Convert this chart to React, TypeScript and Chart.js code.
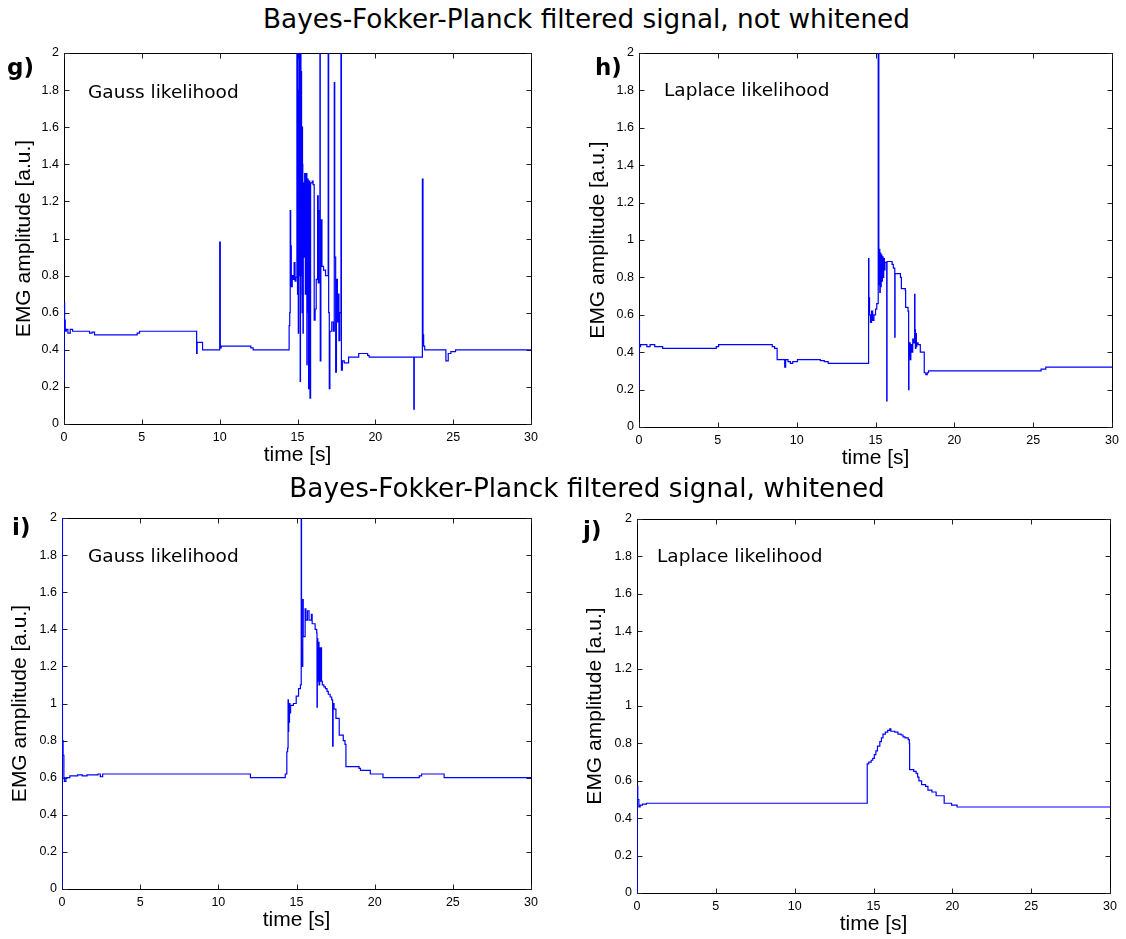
import React, { useEffect, useRef } from "react";
import { Chart, registerables } from "chart.js";

Chart.register(...registerables);

// ---------------- data ----------------
const xTickValues = [0, 5, 10, 15, 20, 25, 30];
const yTickValues = [0, 0.2, 0.4, 0.6, 0.8, 1, 1.2, 1.4, 1.6, 1.8, 2];

const topTitle = "Bayes-Fokker-Planck filtered signal, not whitened";
const bottomTitle = "Bayes-Fokker-Planck filtered signal, whitened";
const xAxisTitle = "time [s]";
const yAxisTitle = "EMG amplitude [a.u.]";

// g) not whitened, Gauss likelihood (value holds from time[i] until time[i+1])
const gTime = [
  0, 0.01, 0.04, 0.08, 0.15, 0.25, 0.4, 0.55, 1.64, 1.8, 1.96, 4.7, 4.85, 8.52, 8.55, 8.9,
  10.0, 10.04, 10.1, 12.0, 12.15, 14.46, 14.5, 14.53, 14.56, 14.6, 14.66, 14.72, 14.78, 14.84,
  14.9, 14.96, 14.98, 15.0, 15.02, 15.04, 15.05, 15.07, 15.09, 15.11, 15.13, 15.15, 15.17,
  15.19, 15.2, 15.22, 15.23, 15.25, 15.26, 15.28, 15.29, 15.31, 15.32, 15.34, 15.35, 15.37,
  15.38, 15.42, 15.46, 15.5, 15.54, 15.6, 15.62, 15.68, 15.71, 15.74, 15.78, 15.8, 15.84, 15.95,
  16.0, 16.07, 16.13, 16.2, 16.29, 16.33, 16.38, 16.44, 16.46, 16.5, 16.57, 16.67, 16.8, 16.97,
  17.0, 17.04, 17.08, 17.2, 17.3, 17.36, 17.39, 17.45, 17.5, 17.56, 17.6, 17.66, 17.72, 17.79,
  17.82, 17.88, 18.0, 18.28, 18.93, 19.5, 19.6, 22.47, 22.5, 23.02, 23.06, 23.1, 23.17, 24.53,
  24.68, 24.85, 25.15, 30,
];
const gAmp = [
  0.23, 0.65, 0.56, 0.5, 0.51, 0.49, 0.51, 0.5, 0.49, 0.495, 0.48, 0.49, 0.5, 0.38, 0.44, 0.4,
  0.98, 0.41, 0.42, 0.41, 0.4, 0.53, 0.6, 1.15, 0.96, 0.74, 0.8, 0.78, 0.87, 0.77,
  0.79, 2.5, 0.9, 0.7, 2.5, 1.2, 0.49, 1.8, 1.5, 0.8, 2.5, 1.1, 0.23,
  1.7, 2.5, 0.9, 0.8, 1.9, 1.55, 0.7, 0.6, 1.6, 1.4, 0.8, 0.49, 1.2,
  1.3, 0.9, 1.35, 0.7, 1.35, 0.32, 1.32, 0.6, 0.19, 1.31, 0.9, 0.14, 1.3, 1.31,
  1.29, 0.56, 0.62, 0.78, 1.23, 0.76, 1.15, 2.5, 0.34, 1.1, 0.85, 0.83, 0.8, 2.5,
  0.6, 0.19, 0.5, 0.55, 0.5, 1.84, 0.9, 0.28, 0.78, 0.55, 0.7, 0.45, 0.6, 2.5,
  0.29, 0.34, 0.33, 0.36, 0.38, 0.37, 0.36, 0.08, 0.36, 1.32, 0.48, 0.42, 0.4, 0.34,
  0.38, 0.39, 0.4, 0.4,
];

// h) not whitened, Laplace likelihood
const hTime = [
  0, 0.01, 0.03, 0.1, 0.5, 0.7, 1.0, 1.5, 4.9, 5.05, 8.45, 8.6, 8.76, 9.24, 9.3, 9.45, 9.6,
  9.75, 10.05, 11.5, 11.75, 12.0, 14.56, 14.58, 14.62, 14.68, 14.75, 14.82, 14.9, 15.0, 15.08,
  15.17, 15.21, 15.24, 15.27, 15.3, 15.33, 15.36, 15.4, 15.44, 15.48, 15.52, 15.56, 15.6,
  15.71, 15.73, 16.05, 16.13, 16.22, 16.24, 16.58, 16.64, 16.89, 16.91, 17.06, 17.1, 17.12,
  17.16, 17.2, 17.24, 17.3, 17.36, 17.4, 17.48, 17.5, 17.53, 17.56, 17.59, 17.62, 17.7, 17.84,
  18.09, 18.19, 18.28, 18.36, 25.5, 25.8, 30,
];
const hAmp = [
  0.2, 0.57, 0.43, 0.44, 0.43, 0.44, 0.43, 0.42, 0.43, 0.44, 0.43, 0.42, 0.36, 0.32, 0.36, 0.35, 0.34,
  0.35, 0.36, 0.355, 0.35, 0.34, 0.9, 0.69, 0.6, 0.56, 0.62, 0.57, 0.6, 0.63, 0.66,
  2.5, 0.76, 0.95, 0.72, 0.93, 0.75, 0.92, 0.78, 0.91, 0.8, 0.9, 0.84, 0.88,
  0.14, 0.885, 0.87, 0.85, 0.48, 0.82, 0.8, 0.74, 0.73, 0.64, 0.62, 0.2, 0.38,
  0.45, 0.36, 0.44, 0.4, 0.47, 0.45, 0.71, 0.52, 0.42, 0.5, 0.43, 0.45, 0.44, 0.4,
  0.29, 0.28, 0.29, 0.3, 0.31, 0.32, 0.32,
];

// i) whitened, Gauss likelihood
const iTime = [
  0, 0.01, 0.03, 0.07, 0.12, 0.15, 0.25, 0.5, 1.0, 1.3, 1.6, 2.3, 2.45, 2.6, 12.05, 14.28,
  14.38, 14.43, 14.46, 14.48, 14.5, 14.52, 14.55, 14.58, 14.62, 14.8, 14.98, 15.13, 15.25, 15.3,
  15.32, 15.36, 15.4, 15.43, 15.55, 15.6, 15.7, 15.8, 15.95, 16.0, 16.19, 16.29, 16.31, 16.33,
  16.36, 16.4, 16.44, 16.48, 16.52, 16.56, 16.6, 16.65, 16.75, 16.85, 16.95, 17.03, 17.15,
  17.25, 17.31, 17.34, 17.4, 17.52, 17.73, 17.99, 18.1, 18.16, 19.0, 19.09, 19.72, 20.53,
  22.85, 23.0, 24.44, 30,
];
const iAmp = [
  0, 2.5, 0.8, 0.72, 0.6, 0.58, 0.6, 0.61, 0.615, 0.61, 0.615, 0.62, 0.605, 0.62, 0.6, 0.62,
  0.74, 0.76, 1.02, 0.85, 1.0, 0.9, 1.0, 0.95, 0.99, 1.0, 1.04, 1.08, 1.1, 2.5,
  1.3, 1.2, 1.56, 1.36, 1.51, 1.45, 1.5, 1.45, 1.48, 1.43, 1.4, 1.38, 0.98, 1.35,
  1.12, 1.33, 1.1, 1.3, 1.12, 1.3, 1.12, 1.1, 1.09, 1.08, 1.065, 1.05, 1.035,
  1.02, 0.77, 1.0, 0.97, 0.92, 0.83, 0.8, 0.78, 0.66, 0.65, 0.64, 0.62, 0.6,
  0.61, 0.62, 0.6, 0.6,
];

// j) whitened, Laplace likelihood
const jTime = [
  0, 0.01, 0.05, 0.12, 0.2, 0.35, 0.6, 14.6, 14.7, 14.85, 14.95, 15.05, 15.15, 15.25, 15.4,
  15.5, 15.6, 15.75, 15.9, 16.03, 16.1, 16.35, 16.55, 16.75, 16.87, 17.0, 17.2, 17.27, 17.29,
  17.55, 17.7, 17.8, 17.88, 18.05, 18.3, 18.45, 18.7, 18.97, 19.48, 19.95, 20.3, 30,
];
const jAmp = [
  0, 0.57, 0.5, 0.46, 0.47, 0.475, 0.48, 0.69, 0.7, 0.71, 0.72, 0.74, 0.76, 0.785, 0.81,
  0.83, 0.85, 0.86, 0.87, 0.878, 0.865, 0.86, 0.85, 0.845, 0.835, 0.83, 0.82, 0.8, 0.66,
  0.65, 0.64, 0.62, 0.6, 0.58, 0.57, 0.55, 0.54, 0.52, 0.48, 0.47, 0.46, 0.46,
];

// ---------------- layout ----------------
const PAD_TOP = 14;
const PAD_RIGHT = 10;
const Y_AXIS_W = 64;
const X_AXIS_H = 52;

type PanelCfg = {
  time: number[];
  amp: number[];
  plot: [number, number, number, number];
  yTitleDist: number;
  letter: string;
  letterPos: [number, number];
  note: string;
  notePos: [number, number];
};

const panels: PanelCfg[] = [
  { time: gTime, amp: gAmp, plot: [64, 53, 534, 424], yTitleDist: 39.5, letter: "g)", letterPos: [7, 75], note: "Gauss likelihood", notePos: [88, 99] },
  { time: hTime, amp: hAmp, plot: [639, 53, 1115, 427], yTitleDist: 41, letter: "h)", letterPos: [595, 75], note: "Laplace likelihood", notePos: [664, 97] },
  { time: iTime, amp: iAmp, plot: [62, 518, 534, 889], yTitleDist: 42, letter: "i)", letterPos: [12, 535], note: "Gauss likelihood", notePos: [88, 563] },
  { time: jTime, amp: jAmp, plot: [637, 519, 1113, 893], yTitleDist: 41.3, letter: "j)", letterPos: [583, 538], note: "Laplace likelihood", notePos: [657, 563] },
];

// MATLAB-style axes box with inward ticks on all four sides, drawn beneath the data
const boxPlugin = {
  id: "matlabBox",
  beforeDatasetsDraw(chart: any) {
    const { ctx, chartArea: a, scales } = chart;
    const xs = scales.x;
    const ys = scales.y;
    ctx.save();
    ctx.strokeStyle = "#000";
    ctx.lineWidth = 1;
    const L = Math.round(a.left) + 0.5;
    const R = Math.round(a.right) + 0.5;
    const T = Math.round(a.top) + 0.5;
    const B = Math.round(a.bottom) + 0.5;
    ctx.strokeRect(L, T, R - L, B - T);
    ctx.strokeStyle = "#222";
    const tl = 5;
    ctx.beginPath();
    xTickValues.forEach((v) => {
      const px = Math.round(xs.getPixelForValue(v)) + 0.5;
      ctx.moveTo(px, B);
      ctx.lineTo(px, B - tl);
      ctx.moveTo(px, T);
      ctx.lineTo(px, T + tl);
    });
    yTickValues.forEach((v) => {
      const py = Math.round(ys.getPixelForValue(v)) + 0.5;
      ctx.moveTo(L, py);
      ctx.lineTo(L + tl, py);
      ctx.moveTo(R, py);
      ctx.lineTo(R - tl, py);
    });
    ctx.stroke();
    ctx.restore();
  },
};

const fmt = (v: number) => String(Math.round(v * 10) / 10);

function Panel({ cfg }: { cfg: PanelCfg }) {
  const ref = useRef<HTMLCanvasElement>(null);
  const [x1, y1, x2, y2] = cfg.plot;
  const left = x1 - Y_AXIS_W;
  const top = y1 - PAD_TOP;
  const width = x2 - left + PAD_RIGHT;
  const height = y2 - top + X_AXIS_H;

  useEffect(() => {
    const points = cfg.time.map((t, i) => ({ x: t, y: cfg.amp[i] }));
    const yTitleLine = 21 * 1.2;
    const chart = new Chart(ref.current as HTMLCanvasElement, {
      type: "line",
      data: {
        datasets: [
          {
            data: points,
            borderColor: "#0000ff",
            borderWidth: 1.2,
            pointRadius: 0,
            stepped: "before",
            fill: false,
            clip: 0,
          } as any,
        ],
      },
      options: {
        responsive: false,
        animation: false,
        events: [],
        layout: { padding: { left: 0, top: PAD_TOP, right: PAD_RIGHT, bottom: 0 } },
        plugins: { legend: { display: false }, tooltip: { enabled: false }, title: { display: false } },
        scales: {
          x: {
            type: "linear",
            position: "bottom",
            min: 0,
            max: 30,
            afterFit: (s: any) => {
              s.height = X_AXIS_H;
            },
            afterBuildTicks: (s: any) => {
              s.ticks = xTickValues.map((v) => ({ value: v }));
            },
            grid: { display: false, drawTicks: false },
            border: { display: false },
            ticks: {
              padding: 6,
              color: "#000",
              maxRotation: 0,
              autoSkip: false,
              font: { family: "'Liberation Sans', Arial, sans-serif", size: 12.5 },
              callback: (v: any) => fmt(Number(v)),
            },
            title: {
              display: true,
              text: xAxisTitle,
              color: "#000",
              font: { family: "'Liberation Sans', Arial, sans-serif", size: 21 },
              padding: { top: 0, bottom: X_AXIS_H - 31 - 21 * 0.6 },
            },
          },
          y: {
            type: "linear",
            position: "left",
            min: 0,
            max: 2,
            afterFit: (s: any) => {
              s.width = Y_AXIS_W;
            },
            afterBuildTicks: (s: any) => {
              s.ticks = yTickValues.map((v) => ({ value: v }));
            },
            grid: { display: false, drawTicks: false },
            border: { display: false },
            ticks: {
              padding: 5,
              color: "#000",
              autoSkip: false,
              font: { family: "'Liberation Sans', Arial, sans-serif", size: 12.5 },
              callback: (v: any) => fmt(Number(v)),
            },
            title: {
              display: true,
              text: yAxisTitle,
              color: "#000",
              font: { family: "'Liberation Sans', Arial, sans-serif", size: 21 },
              padding: { top: Y_AXIS_W - cfg.yTitleDist - yTitleLine / 2, bottom: 0 },
            },
          },
        },
      } as any,
      plugins: [boxPlugin],
    });
    return () => chart.destroy();
  }, []);

  return (
    <canvas
      ref={ref}
      width={width}
      height={height}
      style={{ position: "absolute", left, top, width, height }}
    />
  );
}

const dejavu = "'DejaVu Sans', sans-serif";

function Label({ text, x, baseline, size, bold, center }: { text: string; x: number; baseline: number; size: number; bold?: boolean; center?: boolean }) {
  // DejaVu Sans: ascent 0.928em, descent 0.236em
  const offset = (size - size * 1.164) / 2 + size * 0.928;
  return (
    <div
      style={{
        position: "absolute",
        left: x,
        top: baseline - offset,
        fontFamily: dejavu,
        fontSize: size,
        lineHeight: `${size}px`,
        fontWeight: bold ? "bold" : "normal",
        whiteSpace: "nowrap",
        color: "#000",
        transform: center ? "translateX(-50%)" : undefined,
      }}
    >
      {text}
    </div>
  );
}

export default function App() {
  return (
    <div
      style={{
        position: "absolute",
        left: 0,
        top: 0,
        width: 1126,
        height: 939,
        overflow: "hidden",
        background: "#fff",
      }}
    >
      {panels.map((p, i) => (
        <Panel key={i} cfg={p} />
      ))}
      <Label text={topTitle} x={586.5} baseline={28} size={26.3} center />
      <Label text={bottomTitle} x={587} baseline={497} size={26.3} center />
      {panels.map((p, i) => (
        <React.Fragment key={"t" + i}>
          <Label text={p.letter} x={p.letterPos[0]} baseline={p.letterPos[1]} size={23} bold />
          <Label text={p.note} x={p.notePos[0]} baseline={p.notePos[1]} size={18.5} />
        </React.Fragment>
      ))}
    </div>
  );
}
